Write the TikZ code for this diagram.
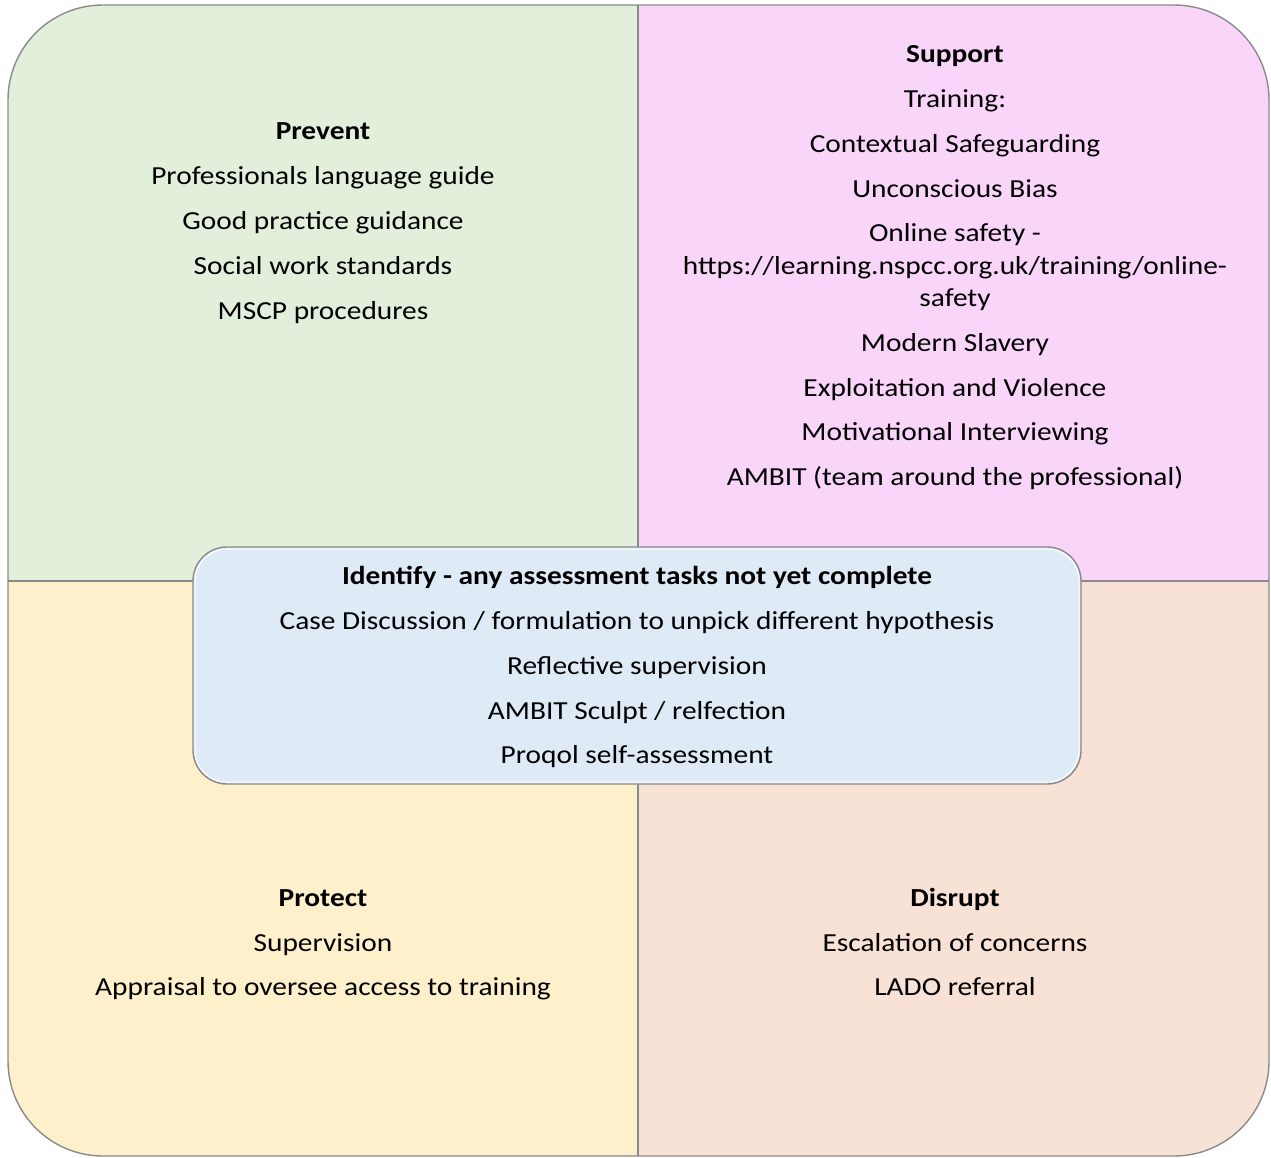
\documentclass[tikz,border=0pt]{standalone}
\usepackage{fontspec}
\setmainfont{Carlito}[FakeStretch=1.13]
\definecolor{qgreen}{HTML}{E2EFDA}
\definecolor{qpink}{HTML}{FAD5FA}
\definecolor{qyellow}{HTML}{FFF0CC}
\definecolor{qpeach}{HTML}{F8E1D5}
\definecolor{qblue}{HTML}{DEEAF6}
\definecolor{qborder}{HTML}{8A8A8A}
\begin{document}
\begin{tikzpicture}[x=1pt,y=-1pt,
  txt/.style={font=\fontsize{26}{31}\selectfont, inner sep=0pt, anchor=base},
  head/.style={txt, font=\fontsize{26}{31}\selectfont\bfseries},
  border/.style={draw=qborder, line width=1.4pt}]
\useasboundingbox (0,0) rectangle (1271,1157);
% quadrants
\begin{scope}
  \clip (0,0) rectangle (638,581);
  \fill[qgreen, rounded corners=95pt] (8,5) rectangle (1269,1156);
\end{scope}
\begin{scope}
  \clip (638,0) rectangle (1271,581);
  \fill[qpink, rounded corners=95pt] (8,5) rectangle (1269,1156);
\end{scope}
\begin{scope}
  \clip (0,581) rectangle (638,1157);
  \fill[qyellow, rounded corners=95pt] (8,5) rectangle (1269,1156);
\end{scope}
\begin{scope}
  \clip (638,581) rectangle (1271,1157);
  \fill[qpeach, rounded corners=95pt] (8,5) rectangle (1269,1156);
\end{scope}
\draw[border, rounded corners=95pt] (8,5) rectangle (1269,1156);
\coordinate (vt) at (638,5);
\coordinate (vb) at (638,1156);
\coordinate (hl) at (8,581);
\coordinate (hr) at (1269,581);
\draw[border] (vt) -- (vb);
\draw[border] (hl) -- (hr);
% centre box
\draw[border, fill=qblue, rounded corners=34pt] (193,547) rectangle (1081,784);
\draw[white, line width=1pt, rounded corners=32pt] (195,549) rectangle (1079,782);
% Prevent
\node[head] (p0) at (323,139) {Prevent};
\node[txt] (p1) at (323,184) {Professionals language guide};
\node[txt] (p2) at (323,229) {Good practice guidance};
\node[txt] (p3) at (323,274) {Social work standards};
\node[txt] (p4) at (323,319) {MSCP procedures};
% Support
\node[head] (s0) at (955,62) {Support};
\node[txt] (s1) at (955,107) {Training:};
\node[txt] (s2) at (955,152) {Contextual Safeguarding};
\node[txt] (s3) at (955,197) {Unconscious Bias};
\node[txt] (s4) at (955,241) {Online safety -};
\node[txt] (s5) at (955,274) {https://learning.nspcc.org.uk/training/online-};
\node[txt] (s6) at (955,306) {safety};
\node[txt] (s7) at (955,351) {Modern Slavery};
\node[txt] (s8) at (955,396) {Exploitation and Violence};
\node[txt] (s9) at (955,440) {Motivational Interviewing};
\node[txt] (s10) at (955,485) {AMBIT (team around the professional)};
% Identify
\node[head] (i0) at (637,584) {Identify - any assessment tasks not yet complete};
\node[txt] (i1) at (637,629) {Case Discussion / formulation to unpick different hypothesis};
\node[txt] (i2) at (637,674) {Reflective supervision};
\node[txt] (i3) at (637,719) {AMBIT Sculpt / relfection};
\node[txt] (i4) at (637,763) {Proqol self-assessment};
% Protect
\node[head] (r0) at (323,906) {Protect};
\node[txt] (r1) at (323,951) {Supervision};
\node[txt] (r2) at (323,995) {Appraisal to oversee access to training};
% Disrupt
\node[head] (d0) at (955,906) {Disrupt};
\node[txt] (d1) at (955,951) {Escalation of concerns};
\node[txt] (d2) at (955,995) {LADO referral};
\end{tikzpicture}
\end{document}
